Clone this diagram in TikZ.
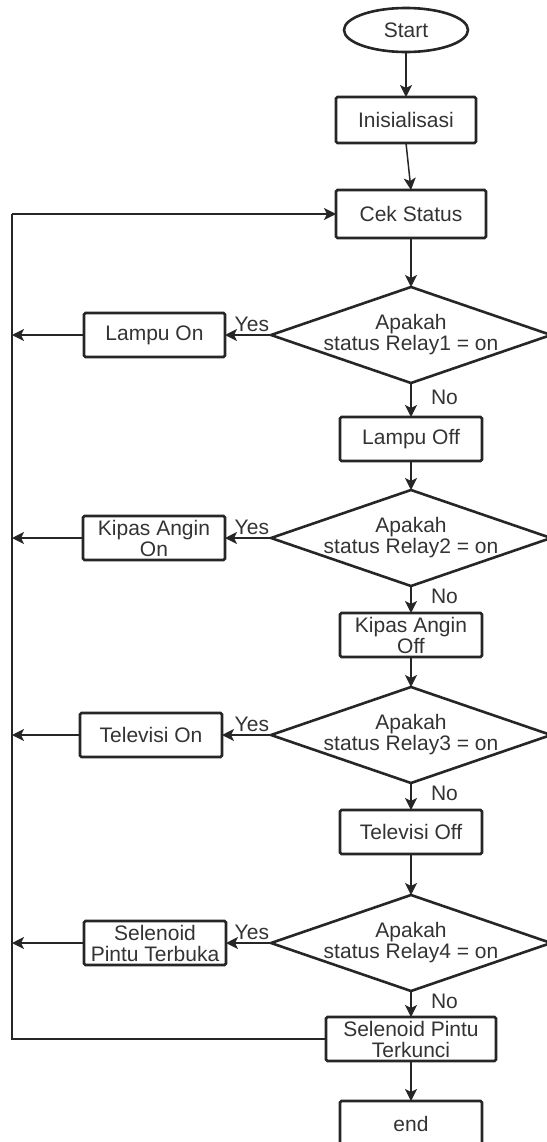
\documentclass[tikz,border=0pt]{standalone}
\usepackage{fontspec}
\setmainfont{Liberation Sans}
\usepackage{tikz}
\usetikzlibrary{arrows.meta}
\usetikzlibrary{positioning, shapes.geometric}

\newcommand{\wideline}[1]{\makebox[150bp]{#1}}

\begin{document}
\begin{tikzpicture}[
    font=\fontsize{21bp}{21bp}\selectfont,
    every node/.style={text=black!80, outer sep=0pt},
    box/.style={draw=black!85, line width=2.6bp, rounded corners=1.5bp, align=center,
      minimum width=142bp, minimum height=44bp, inner sep=1bp},
    terminal/.style={draw=black!85, line width=2.6bp, ellipse,
      minimum width=124bp, minimum height=44bp, inner sep=0bp},
    decision/.style={draw=black!85, line width=2.6bp, diamond, align=center,
      shape aspect=3.1, inner sep=0bp, minimum width=280bp, minimum height=96bp},
    arrow/.style={draw=black!85, line width=1.5bp, -{Stealth[length=12bp,width=12bp,inset=3bp]}},
    link/.style={draw=black!85, line width=1.5bp},
    yeslbl/.style={pos=0, anchor=south east, inner sep=2bp, yshift=1bp},
    nolbl/.style={right=20bp, inner sep=0bp, yshift=3bp}
  ]
  \useasboundingbox (0,0) rectangle (547bp,-1142bp);

  \node [terminal] (start) at (406bp,-30bp) {Start};
  \node [box, minimum width=140bp, minimum height=46bp, below=45bp of start] (init) {Inisialisasi};
  \node [box, minimum width=150bp, minimum height=48bp, below=47bp of init, xshift=5bp] (cek) {Cek Status};
  \node [decision, below=49bp of cek] (d1) {Apakah\\\wideline{status Relay1 = on}};
  \node [box, minimum width=141bp, left=46bp of d1] (lon) {Lampu On};
  \node [box, below=34bp of d1] (loff) {Lampu Off};
  \node [decision, below=29bp of loff] (d2) {Apakah\\\wideline{status Relay2 = on}};
  \node [box, left=46bp of d2] (kon) {Kipas Angin\\On};
  \node [box, below=27bp of d2] (koff) {Kipas Angin\\Off};
  \node [decision, below=30bp of koff] (d3) {Apakah\\\wideline{status Relay3 = on}};
  \node [box, left=49bp of d3] (tvon) {Televisi On};
  \node [box, below=27bp of d3] (tvoff) {Televisi Off};
  \node [decision, below=41bp of tvoff] (d4) {Apakah\\\wideline{status Relay4 = on}};
  \node [box, left=45bp of d4] (sbuka) {Selenoid\\Pintu Terbuka};
  \node [box, minimum width=170bp, below=26bp of d4] (kunci) {Selenoid Pintu\\Terkunci};
  \node [box, minimum height=46bp, below=40bp of kunci] (end) {end};
  \coordinate (rail) at ([xshift=-324bp]cek.west);

  \draw [arrow] (start) -- (init);
  \draw [arrow] (init.south) -- (cek.north);
  \draw [arrow] (cek) -- (d1);
  \draw [arrow] (d1.west) -- node[yeslbl] {Yes} (lon.east);
  \draw [arrow] (d1.south) -- node[nolbl] {No} (loff.north);
  \draw [arrow] (loff) -- (d2);
  \draw [arrow] (d2.west) -- node[yeslbl] {Yes} (kon.east);
  \draw [arrow] (d2.south) -- node[nolbl] {No} (koff.north);
  \draw [arrow] (koff) -- (d3);
  \draw [arrow] (d3.west) -- node[yeslbl] {Yes} (tvon.east);
  \draw [arrow] (d3.south) -- node[nolbl] {No} (tvoff.north);
  \draw [arrow] (tvoff) -- (d4);
  \draw [arrow] (d4.west) -- node[yeslbl] {Yes} (sbuka.east);
  \draw [arrow] (d4.south) -- node[nolbl] {No} (kunci.north);
  \draw [arrow] (kunci) -- (end);
  \draw [arrow] (lon.west) -- (lon.west -| rail);
  \draw [arrow] (kon.west) -- (kon.west -| rail);
  \draw [arrow] (tvon.west) -- (tvon.west -| rail);
  \draw [arrow] (sbuka.west) -- (sbuka.west -| rail);
  \draw [link] (kunci.west) -| (rail);
  \draw [arrow] (rail) -- (cek.west);
\end{tikzpicture}
\end{document}
